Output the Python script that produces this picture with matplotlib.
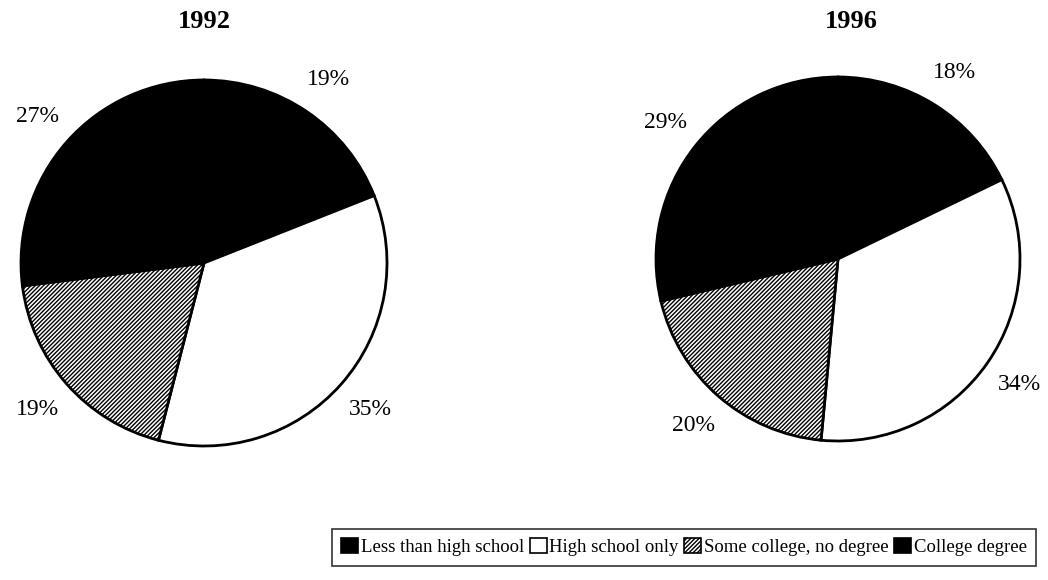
import matplotlib.pyplot as plt
from matplotlib.patches import Patch

plt.rcParams['font.family'] = ['Liberation Serif', 'DejaVu Serif']
plt.rcParams['hatch.linewidth'] = 1.0

categories = ['Less than high school', 'High school only', 'Some college, no degree', 'College degree']
years = ['1992', '1996']
shares_1992 = [19, 35, 19, 27]
shares_1996 = [18, 34, 20, 29]

colors = ['black', 'white', 'white', 'black']
hatches = [None, None, '////////', None]

W, H = 1048, 580
fig = plt.figure(figsize=(W / 100, H / 100), dpi=100)


def draw_pie(cx, cy, r, values, title, title_x):
    ax = fig.add_axes([(cx - r) / W, 1 - (cy + r) / H, 2 * r / W, 2 * r / H])
    labels = [f'{v}%' for v in values]
    wedges, texts = ax.pie(values, colors=colors, labels=labels, startangle=90,
                           counterclock=False, labeldistance=1.21,
                           wedgeprops=dict(edgecolor='black', linewidth=2),
                           textprops=dict(fontsize=17))
    for w, h in zip(wedges, hatches):
        if h:
            w.set_hatch(h)
    for t in texts:
        t.set_ha('center')
        t.set_va('center')
    ax.set_xlim(-1, 1)
    ax.set_ylim(-1, 1)
    ax.set_aspect('equal')
    fig.text(title_x / W, 1 - 22 / H, title, ha='center', va='center',
             fontsize=19, fontweight='bold')


draw_pie(204, 263, 183, shares_1992, years[0], 204)
draw_pie(838, 259, 182, shares_1996, years[1], 851)

handles = [Patch(facecolor=c, edgecolor='black', hatch=h, linewidth=1.2)
           for c, h in zip(colors, hatches)]
leg = fig.legend(handles, categories, loc='center', ncol=4,
                 bbox_to_anchor=(684 / W, 1 - 547 / H), frameon=True,
                 fontsize=13.5, handlelength=0.9, handleheight=0.9,
                 handletextpad=0.15, columnspacing=0.3, borderpad=0.5,
                 borderaxespad=0, fancybox=False)
leg.get_frame().set_edgecolor('black')
leg.get_frame().set_linewidth(1.2)

fig.savefig('out.png', dpi=100)
